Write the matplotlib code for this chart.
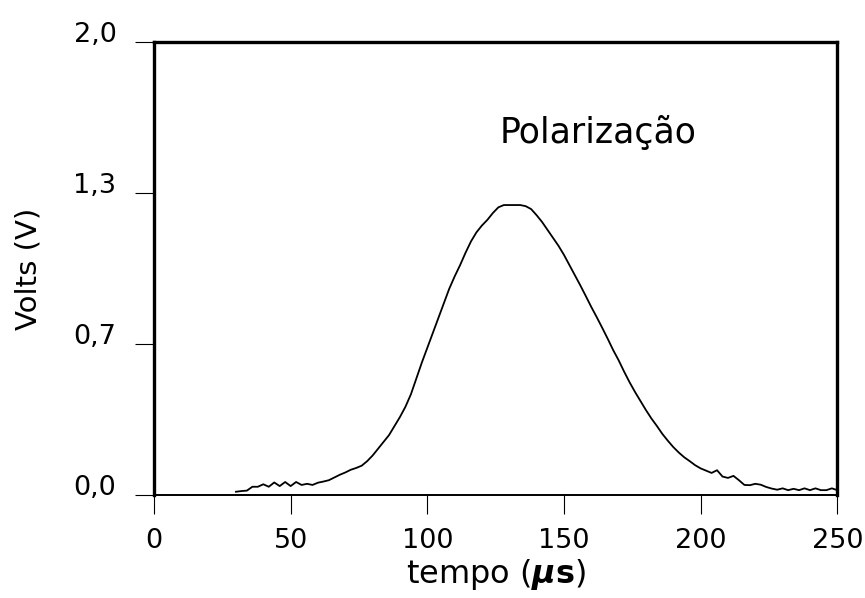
import numpy as np
import matplotlib
matplotlib.use('Agg')
import matplotlib.pyplot as plt
import matplotlib.transforms as mtransforms

# --- data ---
tempo = np.arange(30, 251, 2)  # sampling grid in us
volts = [
    0.015, 0.018, 0.020, 0.037, 0.037, 0.048, 0.037, 0.056, 0.040, 0.058,
    0.040, 0.058, 0.045, 0.050, 0.045, 0.055, 0.060, 0.066, 0.078, 0.090,
    0.100, 0.112, 0.120, 0.130, 0.150, 0.175, 0.205, 0.235, 0.265, 0.305,
    0.345, 0.390, 0.445, 0.515, 0.585, 0.650, 0.715, 0.780, 0.845, 0.910,
    0.965, 1.015, 1.070, 1.120, 1.160, 1.190, 1.215, 1.245, 1.270, 1.280,
    1.280, 1.280, 1.280, 1.275, 1.262, 1.235, 1.205, 1.170, 1.135, 1.100,
    1.060, 1.015, 0.970, 0.925, 0.878, 0.830, 0.785, 0.738, 0.690, 0.640,
    0.595, 0.545, 0.498, 0.455, 0.415, 0.375, 0.338, 0.305, 0.270, 0.240,
    0.212, 0.188, 0.167, 0.150, 0.132, 0.118, 0.108, 0.098, 0.110, 0.082,
    0.076, 0.085, 0.066, 0.045, 0.044, 0.050, 0.046, 0.036, 0.029, 0.024,
    0.030, 0.022, 0.028, 0.022, 0.030, 0.022, 0.030, 0.022, 0.022, 0.030,
    0.022,
]

xticks = [0, 50, 100, 150, 200, 250]
yticks = [0.0, 2 / 3, 4 / 3, 2.0]
ytick_labels = ['0,0', '0,7', '1,3', '2,0']

# --- plotting ---
fig = plt.figure(figsize=(8.65, 5.98), dpi=100)
ax = fig.add_axes([0.178, 0.172, 0.790, 0.758])

ax.plot(tempo, volts, color='black', linewidth=1.3)

ax.set_xlim(0, 250)
ax.set_ylim(0, 2.0)

ax.set_xticks(xticks)
ax.set_xticklabels([str(t) for t in xticks])
ax.set_yticks(yticks)
ax.set_yticklabels(ytick_labels)

ax.tick_params(axis='both', direction='out', length=14, width=0.8,
               labelsize=19.5, colors='black')
ax.tick_params(axis='x', pad=10)
ax.tick_params(axis='y', pad=13)

# y labels sit a bit above their ticks in the original
offset = mtransforms.ScaledTranslation(0, 10 / 100, fig.dpi_scale_trans)
for lab in ax.get_yticklabels():
    lab.set_transform(lab.get_transform() + offset)

for side in ['left', 'right', 'top']:
    ax.spines[side].set_linewidth(2.4)
ax.spines['bottom'].set_linewidth(1.4)

ax.set_ylabel('Volts (V)', fontsize=21)
ax.yaxis.set_label_coords(-0.163, 0.5)
ax.set_xlabel(r'tempo ($\boldsymbol{\mu}\mathbf{s}$)', fontsize=23, labelpad=2)

ax.text(162.5, 1.6, 'Polarização', fontsize=25, ha='center', va='center')

fig.savefig('out.png', dpi=100)
